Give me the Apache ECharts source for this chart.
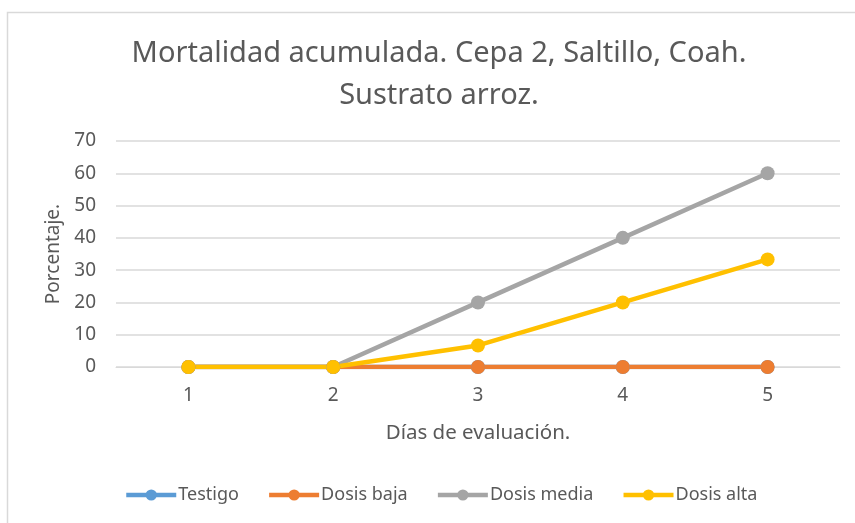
<!DOCTYPE html>
<html><head><meta charset="utf-8">
<script src="https://cdn.jsdelivr.net/npm/echarts@6/dist/echarts.min.js"></script>
<style>html,body{margin:0;padding:0;background:#fff}#c{width:855px;height:523px}</style>
</head><body><div id="c"></div>
<script>
const categories = ['1','2','3','4','5'];
const testigo = [0,0,0,0,0];
const dosisBaja = [0,0,0,0,0];
const dosisMedia = [0,0,20,40,60];
const dosisAlta = [0,0,6.67,20,33.33];
const seriesNames = ['Testigo','Dosis baja','Dosis media','Dosis alta'];
const colors = ['#5b9bd5','#ed7d31','#a5a5a5','#ffc000'];
const font = 'Noto Sans';
const chart = echarts.init(document.getElementById('c'));
const mk = (name, data, color) => ({
  name, type:'line', data, symbol:'circle', symbolSize:14,
  lineStyle:{width:4.5,color}, itemStyle:{color}, animation:false
});
chart.setOption({
  animation:false,
  textStyle:{fontFamily:font},
  graphic:[{type:'rect',shape:{x:7.5,y:12.5,width:870,height:540},style:{fill:'none',stroke:'#d9d9d9',lineWidth:1.5},silent:true,z:-1}],
  title:{text:'Mortalidad acumulada. Cepa 2, Saltillo, Coah.\nSustrato arroz.',left:434,top:28,textAlign:'center',
    textStyle:{fontFamily:font,fontSize:29,fontWeight:'normal',color:'#595959',lineHeight:42}},
  legend:{bottom:14,left:119,itemWidth:50,itemHeight:14,itemGap:28,
    lineStyle:{width:4.5},
    textStyle:{fontFamily:font,fontSize:18,color:'#595959',padding:[0,0,0,-3]},data:seriesNames},
  grid:{left:116,right:15,top:141,bottom:156,containLabel:false},
  xAxis:{type:'category',data:categories,boundaryGap:true,
    name:'Días de evaluación.',nameLocation:'middle',nameGap:56,
    nameTextStyle:{fontFamily:font,fontSize:20.5,color:'#595959'},
    axisLine:{show:true,lineStyle:{color:'#d9d9d9',width:1}},axisTick:{show:false},
    axisLabel:{fontFamily:font,fontSize:19,color:'#595959',margin:19}},
  yAxis:{type:'value',min:0,max:70,interval:10,
    name:'Porcentaje.',nameLocation:'middle',nameGap:46,nameRotate:90,
    nameTextStyle:{fontFamily:font,fontSize:19,color:'#595959'},
    axisLine:{show:false},axisTick:{show:false},
    axisLabel:{fontFamily:font,fontSize:19,color:'#595959',margin:20},
    splitLine:{lineStyle:{color:'#d9d9d9',width:1.5}}},
  series:[mk(seriesNames[0],testigo,colors[0]),mk(seriesNames[1],dosisBaja,colors[1]),
          mk(seriesNames[2],dosisMedia,colors[2]),mk(seriesNames[3],dosisAlta,colors[3])]
});
</script></body></html>
